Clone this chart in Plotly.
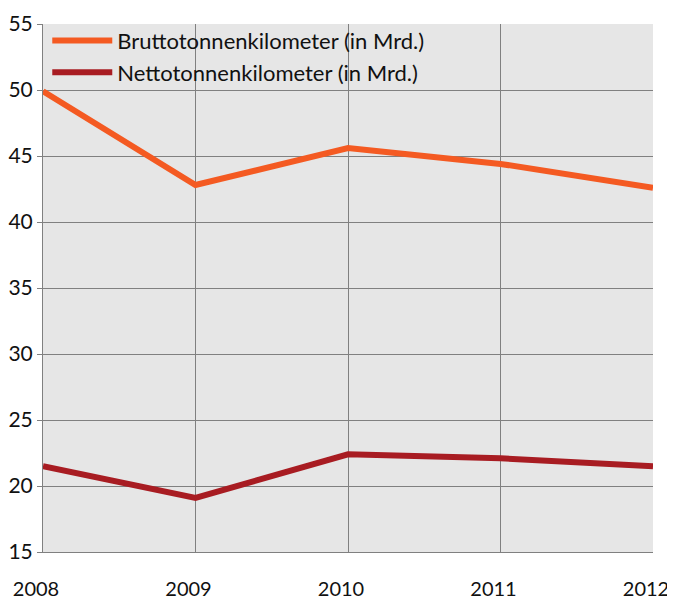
import plotly.graph_objects as go

# Data
years = ["2008", "2009", "2010", "2011", "2012"]
brutto = [49.9, 42.8, 45.6, 44.4, 42.6]
netto = [21.5, 19.1, 22.4, 22.1, 21.5]

fig = go.Figure()

fig.add_trace(go.Scatter(
    x=years, y=brutto,
    mode='lines',
    name='Bruttotonnenkilometer (in Mrd.)',
    line=dict(color='#f45a22', width=6)
))

fig.add_trace(go.Scatter(
    x=years, y=netto,
    mode='lines',
    name='Nettotonnenkilometer (in Mrd.)',
    line=dict(color='#a81c22', width=6)
))

# page body adds an 8px offset, margins compensate for it
fig.update_layout(
    width=675,
    height=599,
    margin=dict(l=35, r=30, t=16, b=55),
    paper_bgcolor='white',
    plot_bgcolor='#e6e6e6',
    font=dict(family='Lato, Noto Sans, sans-serif', size=21, color='#111111'),
    showlegend=True,
    legend=dict(
        x=0.007, y=1.008, xanchor='left', yanchor='top',
        bgcolor='rgba(0,0,0,0)',
        font=dict(size=22),
        itemwidth=60,
        tracegroupgap=0
    ),
    xaxis=dict(
        type='category',
        range=[0, 4],
        automargin=False,
        showgrid=True,
        gridcolor='#808080',
        gridwidth=1,
        showline=True,
        linecolor='#808080',
        zeroline=False,
        ticks='',
        ticklabelstandoff=19,
        ticklabelshift=-7,
        tickfont=dict(size=20)
    ),
    yaxis=dict(
        range=[15, 55],
        dtick=5,
        automargin=False,
        showgrid=True,
        gridcolor='#808080',
        gridwidth=1,
        showline=True,
        linecolor='#808080',
        linewidth=1,
        zeroline=False,
        ticks='outside',
        ticklen=5,
        tickcolor='#808080',
        tickfont=dict(size=21)
    )
)

fig.write_html("out.html")
